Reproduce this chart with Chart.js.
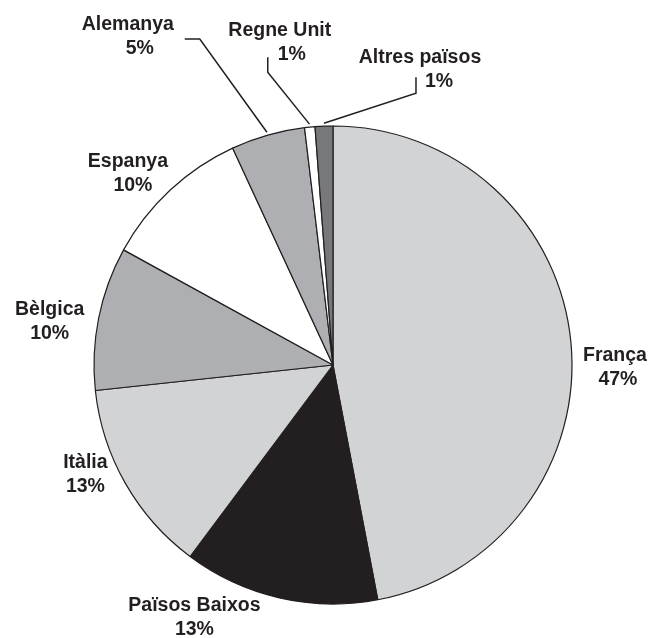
<!DOCTYPE html>
<html>
<head>
<meta charset="utf-8">
<script src="https://cdn.jsdelivr.net/npm/chart.js@4.4.0/dist/chart.umd.min.js"></script>
<style>
    html, body { margin: 0; padding: 0; background: #fff; }
    canvas { display: block; }
</style>
</head>
<body>
<canvas id="pieChart" width="650" height="638"></canvas>
<script>
// Data
const countries = ["França", "Països Baixos", "Itàlia", "Bèlgica", "Espanya", "Alemanya", "Regne Unit", "Altres països"];
const shares = [47, 13.2, 13.1, 9.7, 10.1, 5, 0.7, 1.2];

// Styles
const sliceColors = ['#d1d3d4', '#231f20', '#d1d3d4', '#aeafb2', '#ffffff', '#aeafb2', '#ffffff', '#77787b'];
const inkColor = '#231f20';

// label block centre, relative to the outer midpoint of each slice
// pctDx: extra horizontal shift of the percentage line
// lead: elbow and end of the leader line (same reference point)
const labelLayout = [
    { dx: 44, dy: 25, pctDx: 3 },
    { dx: -85, dy: 20, pctDx: 0 },
    { dx: -40, dy: -9, pctDx: 0 },
    { dx: -49, dy: 4, pctDx: 0 },
    { dx: -42, dy: -17, pctDx: 5 },
    { dx: -140, dy: -98, pctDx: 12, lead: [[-68, -96], [-83, -96]] },
    { dx: -30, dy: -85, pctDx: 12, lead: [[-42, -55], [-42, -70]] },
    { dx: 96, dy: -57, pctDx: 19, lead: [[92, -33], [92, -49]] }
];

const sliceLabels = {
    id: 'sliceLabels',
    afterDatasetsDraw(chart) {
        const ctx = chart.ctx;
        const arcs = chart.getDatasetMeta(0).data;
        ctx.save();
        ctx.font = 'bold 19.5px "Liberation Sans", Arial, sans-serif';
        ctx.fillStyle = inkColor;
        ctx.strokeStyle = inkColor;
        ctx.lineWidth = 1.5;
        ctx.textAlign = 'center';
        ctx.textBaseline = 'middle';
        arcs.forEach(function (arc, i) {
            const p = arc.getProps(['x', 'y', 'startAngle', 'endAngle', 'outerRadius'], true);
            const mid = (p.startAngle + p.endAngle) / 2;
            const ox = p.x + Math.cos(mid) * p.outerRadius;
            const oy = p.y + Math.sin(mid) * p.outerRadius;
            const lay = labelLayout[i];
            const lx = ox + lay.dx;
            const ly = oy + lay.dy;

            if (lay.lead) {
                ctx.beginPath();
                ctx.moveTo(ox + Math.cos(mid) * 3, oy + Math.sin(mid) * 3);
                lay.lead.forEach(function (pt) {
                    ctx.lineTo(ox + pt[0], oy + pt[1]);
                });
                ctx.stroke();
            }

            ctx.fillText(countries[i], lx, ly - 12);
            ctx.fillText(Math.round(shares[i]) + '%', lx + lay.pctDx, ly + 12);
        });
        ctx.restore();
    }
};

new Chart(document.getElementById('pieChart'), {
    type: 'pie',
    data: {
        labels: countries,
        datasets: [{
            data: shares,
            backgroundColor: sliceColors,
            borderColor: inkColor,
            borderWidth: 1.2,
            radius: 239
        }]
    },
    options: {
        responsive: false,
        animation: false,
        layout: {
            padding: { left: 16, right: 0, top: 92, bottom: 0 }
        },
        plugins: {
            legend: { display: false },
            tooltip: { enabled: false }
        }
    },
    plugins: [sliceLabels]
});
</script>
</body>
</html>
